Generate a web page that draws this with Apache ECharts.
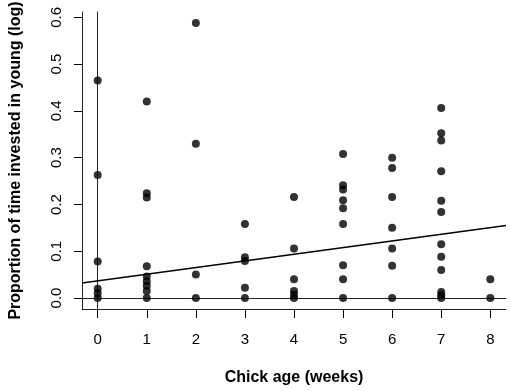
<!DOCTYPE html>
<html>
<head>
<meta charset="utf-8">
<script src="https://cdn.jsdelivr.net/npm/echarts@6/dist/echarts.min.js"></script>
<style>
  html, body { margin: 0; padding: 0; background: #fff; }
  #main { width: 510px; height: 391px; }
</style>
</head>
<body>
<div id="main"></div>
<script>
// chick age (weeks) -> proportion of time invested in young (log)
var week0 = [0, 0.01, 0.02, 0.078, 0.263, 0.465];
var week1 = [0, 0.015, 0.026, 0.036, 0.046, 0.068, 0.215, 0.224, 0.42];
var week2 = [0, 0.05, 0.33, 0.588];
var week3 = [0, 0.022, 0.079, 0.087, 0.158];
var week4 = [0, 0.007, 0.015, 0.04, 0.106, 0.216];
var week5 = [0, 0.04, 0.07, 0.158, 0.192, 0.209, 0.232, 0.241, 0.308];
var week6 = [0, 0.069, 0.106, 0.15, 0.216, 0.278, 0.3];
var week7 = [0, 0.006, 0.013, 0.06, 0.088, 0.115, 0.184, 0.208, 0.271, 0.337, 0.352, 0.406];
var week8 = [0, 0.04];
var weeks = [week0, week1, week2, week3, week4, week5, week6, week7, week8];

// fitted line, end points at the plot edges
var fitX = [-0.32, 8.32];
var fitY = [0.032, 0.155];

var xTicks = [0, 1, 2, 3, 4, 5, 6, 7, 8];
var yTicks = [0, 0.1, 0.2, 0.3, 0.4, 0.5, 0.6];

var points = [];
weeks.forEach(function (vals, w) {
  vals.forEach(function (v) { points.push([w, v]); });
});

var chart = echarts.init(document.getElementById('main'));
var font = 'Liberation Sans, Arial, sans-serif';
var xMin = -0.32, xMax = 8.32, yMin = -0.0235, yMax = 0.6115;

// the frame around the plot: plain axis lines on all four sides
function frameAxis(pos) {
  return {
    type: 'value', position: pos,
    min: (pos === 'top') ? xMin : yMin,
    max: (pos === 'top') ? xMax : yMax,
    axisLine: { show: true, lineStyle: { color: '#222', width: 1 } },
    axisTick: { show: false }, axisLabel: { show: false }, splitLine: { show: false }
  };
}

chart.setOption({
  animation: false,
  textStyle: { fontFamily: font, color: '#000' },
  grid: { left: 80, right: 4, top: 12, bottom: 78 },
  xAxis: [{
    type: 'value',
    min: xMin, max: xMax,
    name: 'Chick age (weeks)',
    nameLocation: 'middle',
    nameGap: 61,
    nameTextStyle: { fontSize: 16, fontWeight: 'bold', color: '#000', fontFamily: font },
    axisLine: { show: true, onZero: false, lineStyle: { color: '#222', width: 1 } },
    splitLine: { show: false },
    axisTick: { show: true, length: 9, customValues: xTicks, lineStyle: { color: '#000' } },
    axisLabel: { customValues: xTicks, fontSize: 15, color: '#000', margin: 23, fontFamily: font }
  }, frameAxis('top')],
  yAxis: [{
    type: 'value',
    min: yMin, max: yMax,
    name: 'Proportion of time invested in young (log)',
    nameLocation: 'middle',
    nameGap: 58,
    nameTextStyle: { fontSize: 16, fontWeight: 'bold', color: '#000', fontFamily: font },
    axisLine: { show: true, onZero: false, lineStyle: { color: '#222', width: 1 } },
    splitLine: { show: false },
    axisTick: { show: true, length: 8, customValues: yTicks, lineStyle: { color: '#000' } },
    axisLabel: {
      customValues: yTicks, fontSize: 15, color: '#000', rotate: 90, margin: 18, fontFamily: font,
      formatter: function (v) { return v.toFixed(1); }
    }
  }, frameAxis('right')],
  series: [{
    type: 'scatter',
    data: points,
    symbolSize: 8,
    itemStyle: { color: '#000' }
  }, {
    type: 'line',
    data: [[fitX[0], fitY[0]], [fitX[1], fitY[1]]],
    showSymbol: false,
    lineStyle: { color: '#000', width: 1.5 },
    z: 1
  }]
});
</script>
</body>
</html>
